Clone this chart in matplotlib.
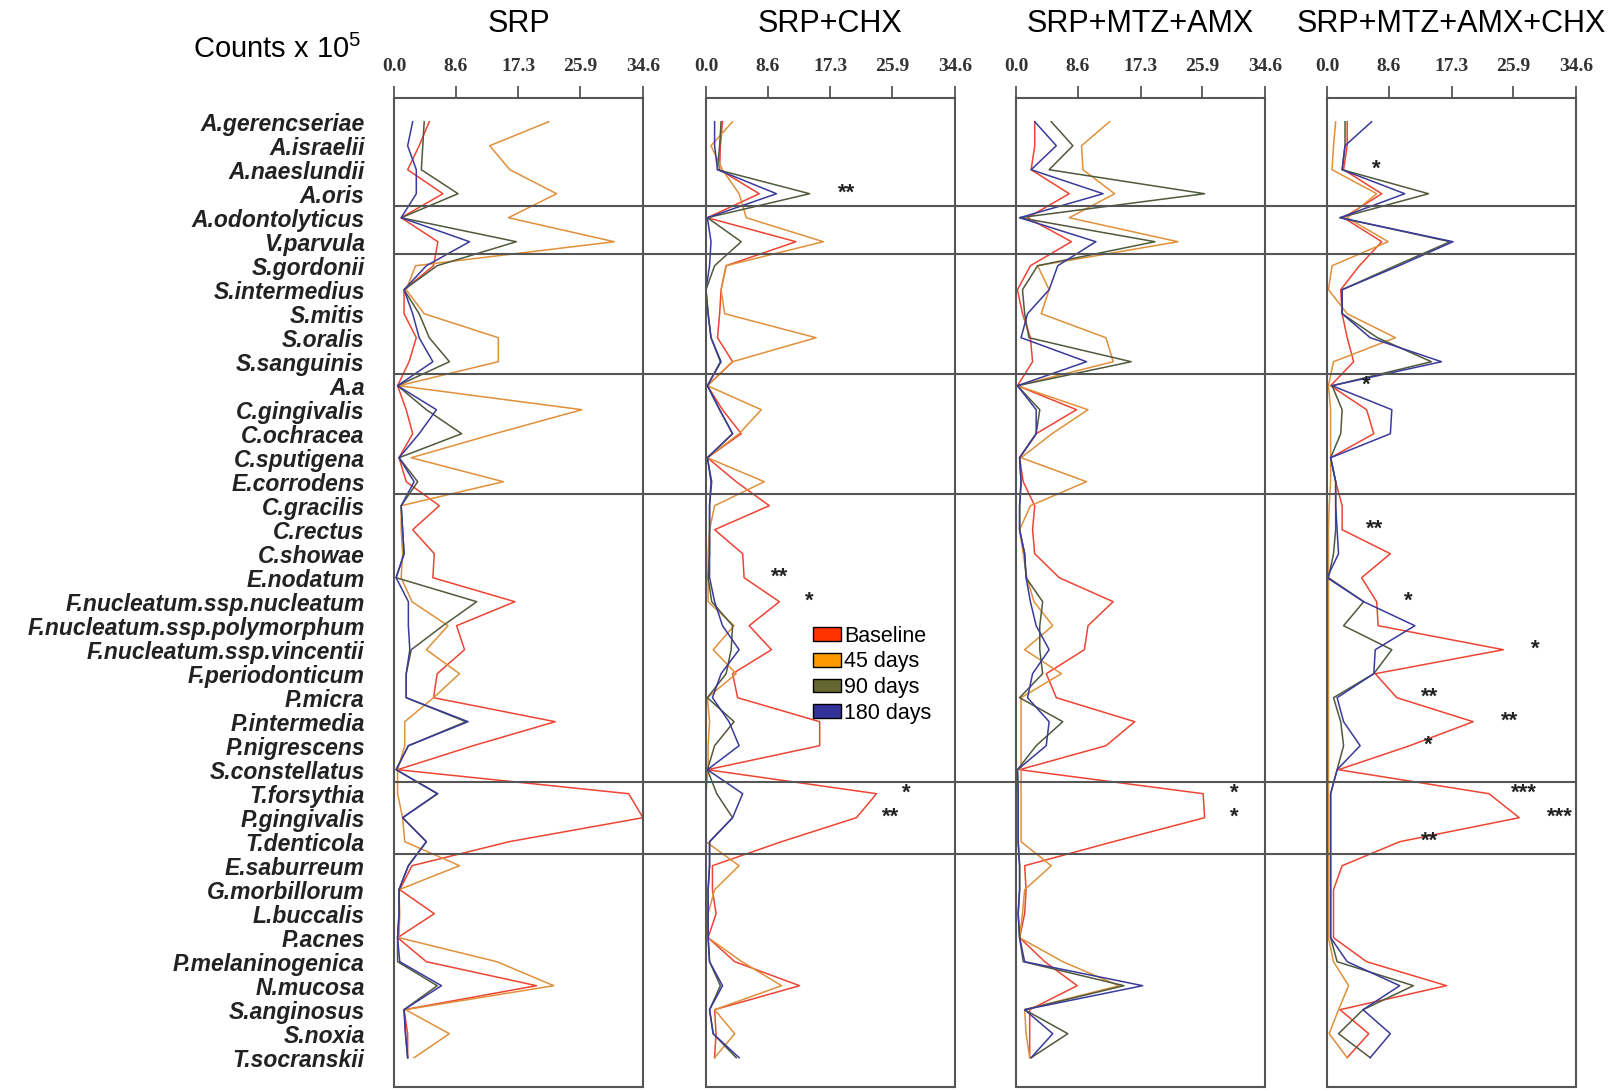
import matplotlib
matplotlib.use("Agg")
from matplotlib import pyplot as plt
from matplotlib.lines import Line2D
from matplotlib.patches import Patch
from matplotlib.transforms import blended_transform_factory

plt.rcParams['font.family'] = ['Liberation Sans', 'DejaVu Sans']
plt.rcParams['mathtext.fontset'] = 'custom'
plt.rcParams['mathtext.rm'] = 'Liberation Sans'

species = ['A.gerencseriae', 'A.israelii', 'A.naeslundii', 'A.oris', 'A.odontolyticus',
           'V.parvula', 'S.gordonii', 'S.intermedius', 'S.mitis', 'S.oralis', 'S.sanguinis',
           'A.a', 'C.gingivalis', 'C.ochracea', 'C.sputigena', 'E.corrodens', 'C.gracilis',
           'C.rectus', 'C.showae', 'E.nodatum', 'F.nucleatum.ssp.nucleatum',
           'F.nucleatum.ssp.polymorphum', 'F.nucleatum.ssp.vincentii', 'F.periodonticum',
           'P.micra', 'P.intermedia', 'P.nigrescens', 'S.constellatus', 'T.forsythia',
           'P.gingivalis', 'T.denticola', 'E.saburreum', 'G.morbillorum', 'L.buccalis',
           'P.acnes', 'P.melaninogenica', 'N.mucosa', 'S.anginosus', 'S.noxia', 'T.socranskii']

treatments = ['SRP', 'SRP+CHX', 'SRP+MTZ+AMX', 'SRP+MTZ+AMX+CHX']
visits = ['Baseline', '45 days', '90 days', '180 days']
xticks = [0.0, 8.6, 17.3, 25.9, 34.6]
# complexes are separated after these species rows
complex_breaks = [3.5, 5.5, 10.5, 15.5, 27.5, 30.5]

# counts x 10^5, one list per visit per treatment
srp_base = [4.9, 3.5, 1.9, 6.8, 1.0, 6.1, 5.5, 1.4, 1.4, 3.1, 2.1, 0.5, 1.7, 2.6, 0.7, 1.7,
            6.3, 2.6, 5.6, 5.4, 16.8, 8.7, 9.8, 6.0, 5.5, 22.4, 11.0, 0.5, 32.6, 34.6,
            16.0, 2.5, 0.8, 5.6, 0.5, 4.5, 19.8, 1.4, 1.9, 1.9]
srp_45 = [21.5, 13.3, 16.1, 22.6, 15.9, 30.6, 3.0, 1.7, 4.2, 14.5, 14.5, 0.7, 26.1, 14.0, 2.4, 15.2,
          1.0, 1.0, 1.2, 1.0, 2.5, 7.5, 4.5, 9.1, 5.5, 1.5, 1.5, 0.5, 0.5, 1.2,
          1.5, 9.1, 0.7, 0.8, 0.7, 14.3, 22.2, 1.6, 7.7, 2.8]
srp_90 = [4.2, 4.0, 3.8, 8.9, 1.0, 17.0, 6.0, 1.4, 3.5, 4.9, 7.7, 0.5, 4.5, 9.4, 0.7, 3.3,
          1.0, 1.2, 1.4, 0.3, 11.5, 6.8, 2.4, 1.7, 1.7, 10.0, 2.0, 0.3, 6.1, 1.2,
          4.5, 2.0, 0.7, 0.7, 0.5, 0.5, 6.0, 1.4, 1.6, 1.9]
srp_180 = [2.6, 1.9, 3.1, 3.1, 1.0, 10.5, 4.5, 1.4, 2.6, 3.5, 5.4, 0.5, 5.9, 3.5, 0.7, 2.8,
           1.0, 1.2, 1.4, 0.3, 2.0, 2.0, 2.2, 1.7, 1.7, 10.3, 2.0, 0.3, 6.0, 1.2,
           4.5, 2.0, 0.7, 0.7, 0.5, 0.8, 6.6, 1.4, 1.6, 1.9]

chx_base = [2.3, 2.0, 1.9, 7.4, 0.2, 12.5, 2.8, 2.1, 1.9, 1.6, 3.7, 0.2, 2.3, 4.9, 0.2, 4.2,
            8.8, 1.2, 5.1, 5.3, 10.2, 6.0, 9.1, 3.7, 4.4, 15.8, 15.8, 0.2, 23.7, 20.9,
            10.5, 0.9, 0.9, 1.4, 0.3, 4.0, 13.0, 1.2, 1.4, 1.2]
chx_45 = [3.7, 0.7, 2.3, 4.6, 5.6, 16.3, 2.8, 2.1, 2.6, 15.3, 3.7, 0.2, 7.7, 4.6, 0.2, 8.1,
          1.2, 0.5, 0.3, 0.3, 0.3, 3.9, 1.0, 4.2, 0.2, 0.5, 0.3, 0.3, 0.0, 0.0,
          0.0, 4.6, 1.2, 0.3, 0.3, 5.0, 10.5, 1.2, 4.0, 1.2]
chx_90 = [2.1, 1.9, 1.6, 14.4, 0.2, 4.9, 1.2, 0.0, 0.3, 0.7, 2.0, 0.2, 1.9, 3.7, 0.2, 0.8,
          0.5, 0.5, 0.5, 0.3, 0.8, 3.7, 3.5, 2.8, 0.2, 3.9, 1.2, 0.2, 1.5, 3.7,
          0.5, 0.5, 0.3, 0.3, 0.3, 0.5, 2.0, 0.5, 1.0, 4.2]
chx_180 = [1.2, 1.2, 1.6, 9.8, 0.2, 0.7, 0.5, 0.0, 0.3, 0.7, 2.1, 0.2, 1.9, 3.7, 0.2, 0.7,
           0.5, 0.5, 0.5, 0.5, 1.2, 2.3, 4.6, 2.1, 0.9, 3.2, 4.6, 0.2, 5.1, 3.7,
           0.5, 0.5, 0.3, 0.3, 0.3, 0.5, 2.3, 0.5, 1.0, 4.6]

ma_base = [2.6, 2.6, 2.1, 7.4, 1.6, 7.7, 2.0, 0.2, 0.9, 2.0, 2.3, 0.2, 8.4, 2.8, 0.5, 1.0,
           2.6, 2.3, 2.6, 6.0, 13.5, 10.0, 9.5, 4.2, 5.6, 16.5, 12.5, 0.5, 26.0, 26.2,
           13.5, 1.2, 1.4, 1.2, 0.5, 4.0, 8.5, 1.9, 1.9, 1.9]
ma_45 = [13.0, 9.1, 9.3, 13.7, 7.4, 22.5, 3.0, 4.6, 3.5, 12.5, 13.5, 0.2, 10.0, 5.0, 0.7, 9.8,
         2.0, 0.5, 1.0, 1.5, 2.5, 5.1, 1.2, 6.3, 0.7, 0.7, 0.7, 0.7, 0.7, 0.7,
         0.7, 4.9, 1.2, 0.9, 0.5, 6.5, 14.3, 1.2, 1.4, 1.9]
ma_90 = [4.9, 7.9, 4.6, 26.2, 0.5, 19.3, 3.0, 0.9, 1.2, 1.8, 16.0, 0.2, 3.3, 2.8, 0.5, 0.7,
         0.5, 0.5, 1.2, 1.4, 3.7, 3.3, 3.3, 3.7, 0.5, 6.5, 2.8, 0.2, 0.3, 0.3,
         0.3, 0.5, 0.5, 0.3, 0.5, 1.0, 15.0, 1.2, 7.2, 2.1]
ma_180 = [2.6, 5.6, 2.1, 12.1, 0.5, 11.1, 5.8, 4.6, 1.6, 0.7, 9.8, 0.2, 2.8, 2.8, 0.5, 0.7,
          0.5, 0.5, 1.2, 1.4, 2.0, 2.8, 4.6, 2.3, 1.6, 4.6, 4.2, 0.2, 0.3, 0.3,
          0.3, 0.5, 0.5, 0.3, 0.5, 1.2, 17.6, 1.2, 5.1, 2.1]

mac_base = [2.8, 2.8, 2.3, 7.6, 2.3, 7.6, 4.5, 1.9, 2.1, 2.8, 3.7, 0.5, 5.5, 6.5, 0.5, 1.2,
            2.1, 2.1, 8.8, 4.8, 6.9, 7.1, 24.5, 6.7, 9.7, 20.3, 11.5, 1.6, 22.5, 26.7,
            10.1, 2.1, 0.9, 0.9, 0.9, 5.5, 16.6, 1.8, 5.8, 2.8]
mac_45 = [1.2, 0.9, 0.7, 6.9, 2.8, 8.5, 0.7, 0.2, 2.8, 9.5, 0.9, 0.2, 0.5, 0.5, 0.5, 0.5,
          0.3, 0.2, 0.2, 0.2, 0.2, 0.2, 0.2, 0.2, 0.2, 0.2, 0.2, 0.2, 0.2, 0.2,
          0.2, 0.2, 0.2, 0.2, 0.2, 0.9, 3.0, 1.6, 0.3, 2.8]
mac_90 = [2.5, 2.5, 2.1, 14.1, 1.8, 17.1, 9.5, 2.1, 2.1, 7.0, 14.5, 0.7, 2.1, 1.9, 0.5, 1.2,
          1.2, 1.2, 0.9, 0.2, 5.1, 2.3, 9.0, 6.5, 0.9, 1.9, 2.3, 1.4, 0.5, 0.5,
          0.5, 0.5, 0.5, 0.5, 0.5, 1.4, 12.0, 5.0, 1.6, 6.0]
mac_180 = [6.2, 2.5, 2.1, 10.8, 1.8, 17.5, 10.0, 2.1, 2.1, 6.0, 15.9, 0.7, 9.0, 8.8, 0.5, 1.2,
           1.2, 1.4, 1.6, 0.0, 5.1, 12.2, 6.7, 6.5, 1.4, 2.3, 4.6, 1.4, 0.5, 0.5,
           0.5, 0.5, 0.5, 0.5, 0.5, 2.8, 10.1, 5.0, 8.8, 6.0]

panel_data = [[srp_base, srp_45, srp_90, srp_180],
              [chx_base, chx_45, chx_90, chx_180],
              [ma_base, ma_45, ma_90, ma_180],
              [mac_base, mac_45, mac_90, mac_180]]

# significance marks: (panel, species row, count where the mark sits, mark)
stars = [(1, 3, 19.6, '**'), (1, 19, 10.3, '**'), (1, 20, 14.3, '*'),
         (1, 28, 27.9, '*'), (1, 29, 25.7, '**'),
         (2, 28, 30.3, '*'), (2, 29, 30.3, '*'),
         (3, 2, 6.9, '*'), (3, 11, 5.4, '*'), (3, 17, 6.6, '**'), (3, 20, 11.3, '*'),
         (3, 22, 28.9, '*'), (3, 24, 14.3, '**'), (3, 25, 25.3, '**'), (3, 26, 14.1, '*'),
         (3, 28, 27.4, '***'), (3, 29, 32.4, '***'), (3, 30, 14.3, '**')]

line_colors = ['#ee4433', '#e0903a', '#4f5a3c', '#3a3a9c']
patch_colors = ['#ff3300', '#ff9900', '#666633', '#333399']
frame_color = '#555555'

fig = plt.figure(figsize=(16.14, 10.90), dpi=100)
lefts = [0.2441, 0.4374, 0.6295, 0.8222]
axes = []
for i, left in enumerate(lefts):
    ax = fig.add_axes([left, 0.003, 0.1543, 0.9068])
    axes.append(ax)
    for vals, col in zip(panel_data[i], line_colors):
        ax.plot(vals, range(len(species)), color=col, lw=1.1)
    ax.set_xlim(0, 34.6)
    ax.set_ylim(40.21, -0.975)
    ax.xaxis.tick_top()
    ax.set_xticks(xticks, ['%.1f' % t for t in xticks], family='Liberation Serif',
                  fontweight='bold', fontsize=14, color='#333333')
    ax.tick_params(axis='x', direction='out', length=8.5, width=1.3, color=frame_color, pad=8)
    for s in ax.spines.values():
        s.set_color(frame_color)
        s.set_linewidth(1.5)
    if i == 0:
        ax.set_yticks(range(len(species)), species, fontstyle='italic', fontweight='bold',
                      fontsize=16.5, color='#222222')
        ax.tick_params(axis='y', length=0, pad=21)
    else:
        ax.set_yticks([])
    ax.text(0.5, 1.0752, treatments[i], transform=ax.transAxes, ha='center', va='center',
            fontsize=22)

for p, row, x, mark in stars:
    axes[p].text(x, row, mark, ha='center', va='center', fontsize=16, fontweight='bold',
                 color='#222222')

trans = blended_transform_factory(fig.transFigure, axes[0].transData)
for y in complex_breaks:
    fig.add_artist(Line2D([lefts[0], lefts[3] + 0.1543], [y, y], transform=trans,
                          color=frame_color, lw=1.5))

fig.text(0.1716, 0.9547, 'Counts x 10$^{\\mathregular{5}}$', ha='center', va='center', fontsize=21)

handles = [Patch(facecolor=c, edgecolor='black', lw=1) for c in patch_colors]
fig.legend(handles, visits, loc='upper left', bbox_to_anchor=(0.5037, 0.426),
           frameon=False, fontsize=15.5, handlelength=1.3, handleheight=0.6,
           handletextpad=0.15, labelspacing=0.22, borderpad=0, borderaxespad=0)

plt.savefig('out.png')
